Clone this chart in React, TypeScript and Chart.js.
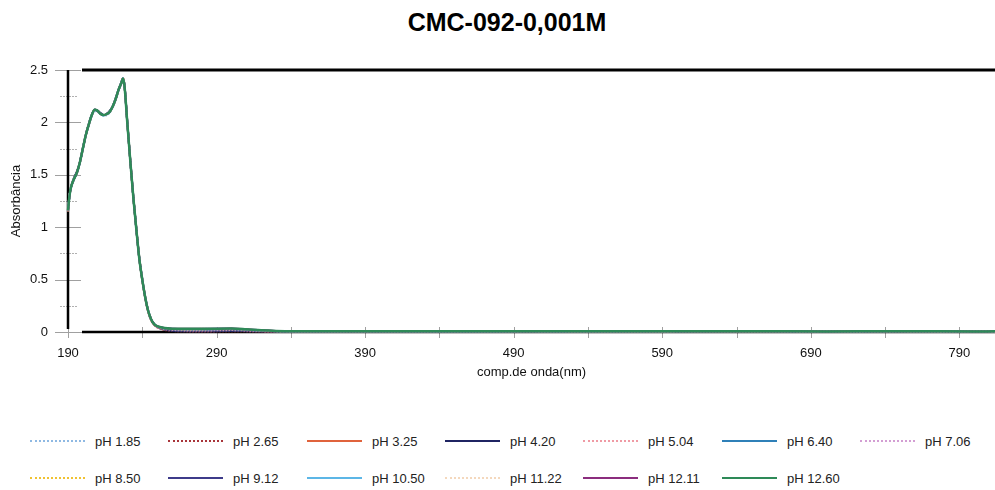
import React, { useEffect, useRef } from "react";
import { Chart, registerables } from "chart.js";

Chart.register(...registerables);

const chartTitle = "CMC-092-0,001M";
const xTitle = "comp.de onda(nm)";
const yTitle = "Absorbância";

const wavelengths = [
  190, 191, 192,
  194, 196, 198, 200, 202, 204, 206, 208, 210, 212, 214, 216, 218, 220, 222, 224,
  226, 227, 228,
  230, 232, 234, 236, 238, 240, 242, 244, 246, 248, 250,
  255, 260,
  270, 280, 290, 300, 310, 320, 330, 340,
  360, 380, 400,
  450, 500, 550, 600, 650, 700, 750, 800, 814,
];

const ph185 = [
  1.15, 1.29, 1.37,
  1.45, 1.52, 1.61, 1.74, 1.87, 1.97, 2.06, 2.11, 2.10, 2.08, 2.06, 2.07, 2.09, 2.14, 2.21, 2.30,
  2.37, 2.41, 2.34,
  1.97, 1.61, 1.27, 0.97, 0.69, 0.49, 0.32, 0.19, 0.11, 0.07, 0.05,
  0.030, 0.022,
  0.018, 0.017, 0.020, 0.022, 0.018, 0.012, 0.008, 0.006,
  0.006, 0.007, 0.006,
  0.005, 0.006, 0.005, 0.006, 0.007, 0.004, 0.006, 0.004, 0.005,
];
const ph265 = [
  1.16, 1.30, 1.37,
  1.46, 1.52, 1.62, 1.75, 1.88, 1.98, 2.07, 2.12, 2.11, 2.08, 2.07, 2.08, 2.10, 2.15, 2.22, 2.31,
  2.38, 2.42, 2.36,
  1.99, 1.63, 1.29, 0.99, 0.71, 0.50, 0.33, 0.20, 0.12, 0.07, 0.045,
  0.020, 0.010,
  0.006, 0.005, 0.006, 0.008, 0.006, 0.004, 0.003, 0.003,
  0.003, 0.004, 0.003,
  0.003, 0.004, 0.003, 0.004, 0.006, 0.003, 0.005, 0.003, 0.004,
];
const ph325 = [
  1.15, 1.30, 1.38,
  1.46, 1.53, 1.62, 1.75, 1.88, 1.98, 2.07, 2.12, 2.11, 2.08, 2.07, 2.08, 2.10, 2.15, 2.22, 2.31,
  2.38, 2.41, 2.35,
  1.98, 1.62, 1.28, 0.98, 0.70, 0.49, 0.32, 0.19, 0.11, 0.07, 0.048,
  0.026, 0.018,
  0.012, 0.011, 0.014, 0.016, 0.012, 0.008, 0.005, 0.004,
  0.004, 0.005, 0.004,
  0.004, 0.005, 0.004, 0.005, 0.007, 0.004, 0.006, 0.004, 0.005,
];
const ph420 = [
  1.16, 1.31, 1.38,
  1.47, 1.53, 1.62, 1.76, 1.88, 1.99, 2.07, 2.12, 2.11, 2.09, 2.07, 2.08, 2.11, 2.15, 2.23, 2.31,
  2.39, 2.42, 2.36,
  1.99, 1.63, 1.29, 0.99, 0.71, 0.51, 0.33, 0.20, 0.12, 0.075, 0.05,
  0.024, 0.012,
  0.008, 0.007, 0.008, 0.010, 0.008, 0.005, 0.004, 0.003,
  0.003, 0.004, 0.003,
  0.003, 0.004, 0.003, 0.005, 0.009, 0.002, 0.006, 0.003, 0.004,
];
const ph504 = [
  1.16, 1.30, 1.38,
  1.46, 1.52, 1.62, 1.75, 1.87, 1.98, 2.07, 2.12, 2.11, 2.08, 2.07, 2.08, 2.10, 2.15, 2.22, 2.31,
  2.38, 2.42, 2.35,
  1.98, 1.62, 1.28, 0.98, 0.70, 0.50, 0.33, 0.20, 0.12, 0.072, 0.05,
  0.028, 0.020,
  0.015, 0.014, 0.016, 0.018, 0.014, 0.009, 0.006, 0.005,
  0.005, 0.006, 0.005,
  0.005, 0.006, 0.005, 0.006, 0.008, 0.006, 0.007, 0.005, 0.005,
];
const ph640 = [
  1.17, 1.30, 1.38,
  1.46, 1.52, 1.62, 1.75, 1.88, 1.98, 2.07, 2.12, 2.11, 2.08, 2.07, 2.08, 2.10, 2.15, 2.22, 2.31,
  2.38, 2.42, 2.35,
  1.98, 1.62, 1.28, 0.98, 0.70, 0.50, 0.33, 0.20, 0.12, 0.074, 0.052,
  0.032, 0.026,
  0.022, 0.022, 0.025, 0.027, 0.021, 0.013, 0.008, 0.006,
  0.006, 0.007, 0.006,
  0.005, 0.006, 0.005, 0.006, 0.007, 0.005, 0.006, 0.004, 0.005,
];
const ph706 = [
  1.16, 1.30, 1.38,
  1.46, 1.52, 1.62, 1.75, 1.88, 1.98, 2.07, 2.12, 2.11, 2.08, 2.07, 2.08, 2.10, 2.15, 2.22, 2.31,
  2.38, 2.42, 2.35,
  1.98, 1.62, 1.28, 0.98, 0.70, 0.50, 0.33, 0.20, 0.12, 0.074, 0.053,
  0.034, 0.028,
  0.025, 0.025, 0.027, 0.029, 0.023, 0.014, 0.009, 0.007,
  0.006, 0.007, 0.006,
  0.006, 0.006, 0.005, 0.006, 0.007, 0.005, 0.006, 0.005, 0.005,
];
const ph850 = [
  1.16, 1.30, 1.38,
  1.46, 1.52, 1.62, 1.75, 1.88, 1.98, 2.07, 2.12, 2.11, 2.08, 2.07, 2.08, 2.10, 2.15, 2.22, 2.31,
  2.38, 2.42, 2.35,
  1.98, 1.62, 1.28, 0.98, 0.70, 0.50, 0.33, 0.20, 0.12, 0.074, 0.054,
  0.035, 0.029,
  0.027, 0.027, 0.029, 0.030, 0.024, 0.015, 0.009, 0.007,
  0.006, 0.007, 0.006,
  0.006, 0.007, 0.005, 0.006, 0.008, 0.005, 0.006, 0.005, 0.006,
];
const ph912 = [
  1.16, 1.30, 1.38,
  1.46, 1.52, 1.62, 1.75, 1.88, 1.98, 2.07, 2.12, 2.11, 2.08, 2.07, 2.08, 2.10, 2.15, 2.22, 2.31,
  2.38, 2.42, 2.36,
  1.99, 1.62, 1.28, 0.98, 0.70, 0.50, 0.33, 0.20, 0.12, 0.075, 0.054,
  0.036, 0.030,
  0.028, 0.028, 0.030, 0.031, 0.025, 0.015, 0.010, 0.007,
  0.007, 0.007, 0.006,
  0.006, 0.007, 0.006, 0.007, 0.009, 0.004, 0.007, 0.005, 0.006,
];
const ph1050 = [
  1.16, 1.30, 1.38,
  1.46, 1.52, 1.62, 1.75, 1.88, 1.98, 2.07, 2.12, 2.11, 2.08, 2.07, 2.08, 2.10, 2.15, 2.22, 2.31,
  2.38, 2.42, 2.35,
  1.98, 1.62, 1.28, 0.98, 0.70, 0.50, 0.33, 0.20, 0.12, 0.075, 0.055,
  0.037, 0.031,
  0.029, 0.029, 0.031, 0.032, 0.025, 0.016, 0.010, 0.008,
  0.007, 0.008, 0.007,
  0.006, 0.007, 0.006, 0.007, 0.008, 0.005, 0.007, 0.005, 0.006,
];
const ph1122 = [
  1.16, 1.30, 1.38,
  1.46, 1.52, 1.62, 1.75, 1.88, 1.98, 2.07, 2.12, 2.11, 2.08, 2.07, 2.08, 2.10, 2.15, 2.22, 2.31,
  2.38, 2.42, 2.35,
  1.98, 1.62, 1.28, 0.98, 0.70, 0.50, 0.33, 0.20, 0.12, 0.075, 0.055,
  0.037, 0.031,
  0.029, 0.030, 0.031, 0.032, 0.026, 0.016, 0.010, 0.008,
  0.007, 0.008, 0.007,
  0.006, 0.007, 0.006, 0.007, 0.008, 0.005, 0.007, 0.005, 0.006,
];
const ph1211 = [
  1.16, 1.30, 1.38,
  1.46, 1.52, 1.62, 1.75, 1.88, 1.98, 2.07, 2.12, 2.11, 2.08, 2.07, 2.08, 2.10, 2.15, 2.22, 2.31,
  2.38, 2.42, 2.35,
  1.98, 1.62, 1.28, 0.98, 0.70, 0.50, 0.33, 0.20, 0.12, 0.075, 0.055,
  0.038, 0.032,
  0.030, 0.030, 0.032, 0.033, 0.026, 0.016, 0.010, 0.008,
  0.007, 0.008, 0.007,
  0.006, 0.007, 0.006, 0.007, 0.008, 0.005, 0.007, 0.005, 0.006,
];
const ph1260 = [
  1.16, 1.30, 1.38,
  1.46, 1.52, 1.62, 1.75, 1.88, 1.98, 2.07, 2.12, 2.11, 2.08, 2.07, 2.08, 2.10, 2.15, 2.22, 2.31,
  2.38, 2.42, 2.35,
  1.98, 1.62, 1.28, 0.98, 0.70, 0.50, 0.33, 0.20, 0.12, 0.075, 0.055,
  0.038, 0.032,
  0.030, 0.030, 0.032, 0.033, 0.026, 0.016, 0.010, 0.008,
  0.007, 0.008, 0.007,
  0.006, 0.007, 0.006, 0.007, 0.008, 0.005, 0.007, 0.005, 0.006,
];

const seriesLabels = [
  "pH 1.85", "pH 2.65", "pH 3.25", "pH 4.20", "pH 5.04", "pH 6.40", "pH 7.06",
  "pH 8.50", "pH 9.12", "pH 10.50", "pH 11.22", "pH 12.11", "pH 12.60",
];
const seriesValues = [
  ph185, ph265, ph325, ph420, ph504, ph640, ph706,
  ph850, ph912, ph1050, ph1122, ph1211, ph1260,
];
const seriesColors = [
  "#8fb9e3", "#a8353a", "#e0633c", "#1f2462", "#ef9aa4", "#2f80b8", "#d39ed3",
  "#f0c232", "#3d3b8a", "#5cb6e6", "#f4d8bd", "#8b2d7e", "#2e8a58",
];
const seriesDotted = [
  true, true, false, false, true, false, true,
  true, false, false, true, false, false,
];

const xMin = 190;
const xMax = 814;
const xTickValues = [190, 240, 290, 340, 390, 440, 490, 540, 590, 640, 690, 740, 790];
const xLabelValues = [190, 290, 390, 490, 590, 690, 790];
const yMin = 0;
const yMax = 2.5;
const yTickValues = [0, 0.25, 0.5, 0.75, 1, 1.25, 1.5, 1.75, 2, 2.25, 2.5];
const yLabelValues = [0, 0.5, 1, 1.5, 2, 2.5];

const FONT = "'Liberation Sans', Arial, Helvetica, sans-serif";
const CANVAS_W = 995;
const CANVAS_H = 400;
const PLOT_BOTTOM = 332;

const axisDecor = {
  id: "axisDecor",
  beforeDatasetsDraw(chart: any) {
    const { ctx, chartArea: ca, scales } = chart;
    const x = scales.x;
    const y = scales.y;
    const y0 = y.getPixelForValue(0);
    const line = (x1: number, y1: number, x2: number, y2: number) => {
      ctx.beginPath();
      ctx.moveTo(x1, y1);
      ctx.lineTo(x2, y2);
      ctx.stroke();
    };
    ctx.save();
    ctx.strokeStyle = "#a0a0a0";
    ctx.lineWidth = 1;
    line(ca.left - 13, y0 + 0.5, ca.right, y0 + 0.5);
    yTickValues.forEach((v) => {
      const py = Math.round(y.getPixelForValue(v)) + 0.5;
      const major = yLabelValues.includes(v);
      ctx.setLineDash(major ? [] : [2, 1]);
      ctx.strokeStyle = major ? "#a0a0a0" : "#b0b0b0";
      line(ca.left - (major ? 13 : 8), py, ca.left + (major ? 13 : 9), py);
    });
    ctx.setLineDash([]);
    ctx.strokeStyle = "#a0a0a0";
    xTickValues.forEach((v) => {
      const px = Math.round(x.getPixelForValue(v)) + 0.5;
      line(px, y0 - 5, px, y0 + 6);
    });
    ctx.strokeStyle = "#000";
    ctx.lineWidth = 2.5;
    line(ca.left, ca.top, ca.left, y0 - 3);
    ctx.lineWidth = 3;
    line(ca.left + 14, ca.top, ca.right, ca.top);
    ctx.lineWidth = 2.5;
    line(ca.left + 14, y0, ca.right, y0);
    ctx.restore();
  },
};

function ChartCanvas() {
  const ref = useRef<HTMLCanvasElement | null>(null);
  useEffect(() => {
    if (!ref.current) return;
    const datasets = seriesLabels.map((label, i) => ({
      label,
      data: wavelengths.map((w, j) => ({ x: w, y: seriesValues[i][j] })),
      borderColor: seriesColors[i],
      backgroundColor: seriesColors[i],
      borderWidth: i === seriesLabels.length - 1 ? 2.5 : 2,
      borderDash: seriesDotted[i] ? [2, 1] : [],
      pointRadius: 0,
      cubicInterpolationMode: "monotone" as const,
      fill: false,
      order: seriesLabels.length - i,
      clip: false as any,
    }));
    const chart = new Chart(ref.current, {
      type: "line",
      data: { datasets },
      plugins: [axisDecor],
      options: {
        animation: false,
        responsive: false,
        maintainAspectRatio: false,
        devicePixelRatio: 1,
        layout: { padding: { top: 70, left: 0, right: 0, bottom: 0 } },
        plugins: {
          legend: { display: false },
          tooltip: { enabled: false },
          title: { display: false },
        },
        scales: {
          x: {
            type: "linear",
            min: xMin,
            max: xMax,
            grid: { display: false, drawTicks: false },
            border: { display: false },
            afterBuildTicks: (s: any) => {
              s.ticks = xTickValues.map((v) => ({ value: v }));
            },
            afterFit: (s: any) => {
              s.height = CANVAS_H - PLOT_BOTTOM;
            },
            ticks: {
              padding: 14,
              maxRotation: 0,
              autoSkip: false,
              color: "#111",
              font: { family: FONT, size: 13 },
              callback: (v: any) => (xLabelValues.includes(Number(v)) ? String(v) : ""),
            },
            title: {
              display: true,
              text: xTitle,
              color: "#111",
              font: { family: FONT, size: 13 },
              padding: { top: 0, bottom: 20 },
            },
          },
          y: {
            type: "linear",
            min: yMin,
            max: yMax,
            grid: { display: false, drawTicks: false },
            border: { display: false },
            afterBuildTicks: (s: any) => {
              s.ticks = yTickValues.map((v) => ({ value: v }));
            },
            afterFit: (s: any) => {
              s.width = 68;
            },
            ticks: {
              padding: 20,
              autoSkip: false,
              color: "#111",
              font: { family: FONT, size: 13 },
              callback: (v: any) => (yLabelValues.includes(Number(v)) ? String(v) : ""),
            },
            title: {
              display: true,
              text: yTitle,
              color: "#111",
              font: { family: FONT, size: 13 },
              padding: { top: 9, bottom: 0 },
            },
          },
        },
      },
    });
    return () => chart.destroy();
  }, []);
  return (
    <canvas
      ref={ref}
      width={CANVAS_W}
      height={CANVAS_H}
      style={{ position: "absolute", left: 0, top: 0, width: CANVAS_W, height: CANVAS_H }}
    />
  );
}

const legendRowTops = [441, 478];
const legendColumnLefts = [30, 168, 307, 445, 583, 722, 860];

export default function App() {
  return (
    <div
      style={{
        position: "absolute",
        left: 0,
        top: 0,
        width: 995,
        height: 490,
        background: "#fff",
        overflow: "hidden",
        fontFamily: FONT,
      }}
    >
      <div
        style={{
          position: "absolute",
          left: 307,
          width: 400,
          top: 6,
          textAlign: "center",
          fontSize: 25,
          fontWeight: "bold",
          color: "#000",
          lineHeight: "32px",
        }}
      >
        {chartTitle}
      </div>
      <ChartCanvas />
      {seriesLabels.map((label, i) => {
        const row = Math.floor(i / 7);
        const col = i % 7;
        return (
          <div
            key={label}
            style={{
              position: "absolute",
              left: legendColumnLefts[col],
              top: legendRowTops[row] - 9,
              height: 18,
              display: "flex",
              alignItems: "center",
              whiteSpace: "nowrap",
            }}
          >
            <div
              style={{
                width: 55,
                height: 0,
                borderTop: `2px ${seriesDotted[i] ? "dotted" : "solid"} ${seriesColors[i]}`,
                marginRight: 10,
              }}
            />
            <span style={{ fontSize: 13, color: "#222" }}>{label}</span>
          </div>
        );
      })}
    </div>
  );
}
